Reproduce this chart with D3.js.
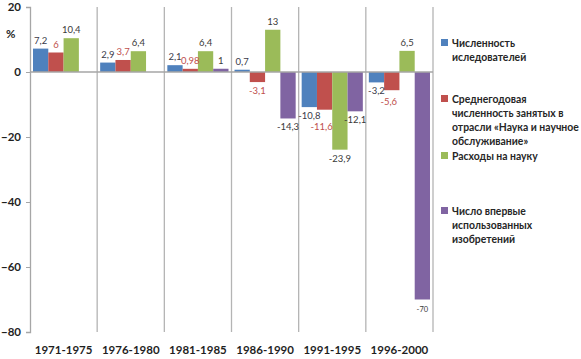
<!DOCTYPE html>
<html>
<head>
<meta charset="utf-8">
<script src="https://cdn.jsdelivr.net/npm/d3@7"></script>
<style>
  body { margin: 0; background: #fff; }
  svg { font-family: Lato, "Open Sans", sans-serif; }
</style>
</head>
<body>
<script>
// data
const periods = ["1971-1975", "1976-1980", "1981-1985", "1986-1990", "1991-1995", "1996-2000"];
const researchers = [7.2, 2.9, 2.1, 0.7, -10.8, -3.2];
const employment = [6, 3.7, 0.98, -3.1, -11.6, -5.6];
const spending = [10.4, 6.4, 6.4, 13, -23.9, 6.5];
const inventions = [null, null, 1, -14.3, -12.1, -70];
const yTicks = [20, 0, -20, -40, -60, -80];
const legendLines = [
  ["Численность", "иследователей"],
  ["Среднегодовая", "численность занятых в", "отрасли «Наука и научное", "обслуживание»"],
  ["Расходы на науку"],
  ["Число впервые", "использованных", "изобретений"]
];

const colors = ["#4f81bd", "#c0504d", "#9bbb59", "#8064a2"];
const labelColors = ["#3a3a4a", "#c0504d", "#3a3a3a", "#3a3a3a"];
const series = [researchers, employment, spending, inventions];

const width = 581, height = 359;
const svg = d3.select("body").append("svg")
  .attr("width", width)
  .attr("height", height);

const x = d3.scaleBand().domain(periods).range([30, 433]);
const xs = d3.scaleBand().domain(d3.range(4)).range([3, x.bandwidth() - 3]);
const y = d3.scaleLinear().domain([-80, 20]).range([332, 7]);

// separators between periods
svg.append("g")
  .selectAll("line")
  .data(periods)
  .join("line")
  .attr("x1", d => x(d) + x.bandwidth())
  .attr("x2", d => x(d) + x.bandwidth())
  .attr("y1", y(20))
  .attr("y2", y(-80))
  .attr("stroke", "#b4b4b4")
  .attr("stroke-width", 1.3);

// y axis
const yAxis = svg.append("g")
  .attr("transform", "translate(30,0)")
  .call(d3.axisLeft(y).tickValues(yTicks).tickSize(4).tickPadding(5));
yAxis.select(".domain").attr("stroke", "#a6a6a6").attr("stroke-width", 1.3);
yAxis.selectAll(".tick line").attr("stroke", "#a6a6a6");
yAxis.selectAll(".tick text")
  .attr("fill", "#1f1f1f")
  .style("font-size", "11.5px")
  .style("font-weight", "bold")
  .style("font-family", "Lato, sans-serif");

svg.append("text")
  .attr("x", 6)
  .attr("y", y(10.5))
  .attr("fill", "#1f1f1f")
  .style("font-size", "11.5px")
  .style("font-weight", "bold")
  .text("%");

// bars
const bars = [];
series.forEach((vals, s) => {
  vals.forEach((v, i) => {
    if (v !== null) bars.push({ s, period: periods[i], v });
  });
});

svg.append("g")
  .selectAll("rect")
  .data(bars)
  .join("rect")
  .attr("x", d => x(d.period) + xs(d.s))
  .attr("width", xs.bandwidth())
  .attr("y", d => y(Math.max(0, d.v)))
  .attr("height", d => Math.abs(y(d.v) - y(0)))
  .attr("fill", d => colors[d.s]);

// zero line
svg.append("line")
  .attr("x1", 30)
  .attr("x2", 433)
  .attr("y1", y(0))
  .attr("y2", y(0))
  .attr("stroke", "#a6a6a6")
  .attr("stroke-width", 1.3);

// label positions, pushing a negative label down if it hits its left neighbour
bars.forEach(d => {
  d.lx = x(d.period) + xs(d.s) + xs.bandwidth() / 2;
  d.ly = d.v >= 0 ? y(d.v) - 5 : y(d.v) + 12;
  const prev = bars.find(b => b.period === d.period && b.s === d.s - 1);
  if (prev && d.v < 0 && prev.v < 0 && Math.abs(d.ly - prev.ly) < 10) {
    d.ly = prev.ly + 11;
    d.lx -= 3;
  }
});

// value labels
svg.append("g")
  .selectAll("text")
  .data(bars)
  .join("text")
  .attr("x", d => d.lx)
  .attr("y", d => d.ly)
  .attr("text-anchor", "middle")
  .attr("fill", d => labelColors[d.s])
  .style("font-size", d => d.v < -50 ? "7.5px" : "9.5px")
  .text(d => String(d.v).replace(".", ","));

// period labels
svg.append("g")
  .selectAll("text")
  .data(periods)
  .join("text")
  .attr("x", d => x(d) + x.bandwidth() / 2)
  .attr("y", 354)
  .attr("text-anchor", "middle")
  .attr("fill", "#1f1f1f")
  .style("font-size", "11.5px")
  .style("font-weight", "bold")
  .text(d => d);

// legend
const legendTop = [43, 99, 156, 211];
const legend = svg.append("g");
legendLines.forEach((lines, s) => {
  const g = legend.append("g").attr("transform", `translate(441,${legendTop[s]})`);
  g.append("rect")
    .attr("x", 0)
    .attr("y", -4)
    .attr("width", 7)
    .attr("height", 7)
    .attr("fill", colors[s]);
  g.selectAll("text")
    .data(lines)
    .join("text")
    .attr("x", 11)
    .attr("y", (d, i) => i * 14 + 3.5)
    .attr("fill", "#262626")
    .style("font-size", "10.4px")
    .style("font-weight", "bold")
    .text(d => d);
});
</script>
</body>
</html>
